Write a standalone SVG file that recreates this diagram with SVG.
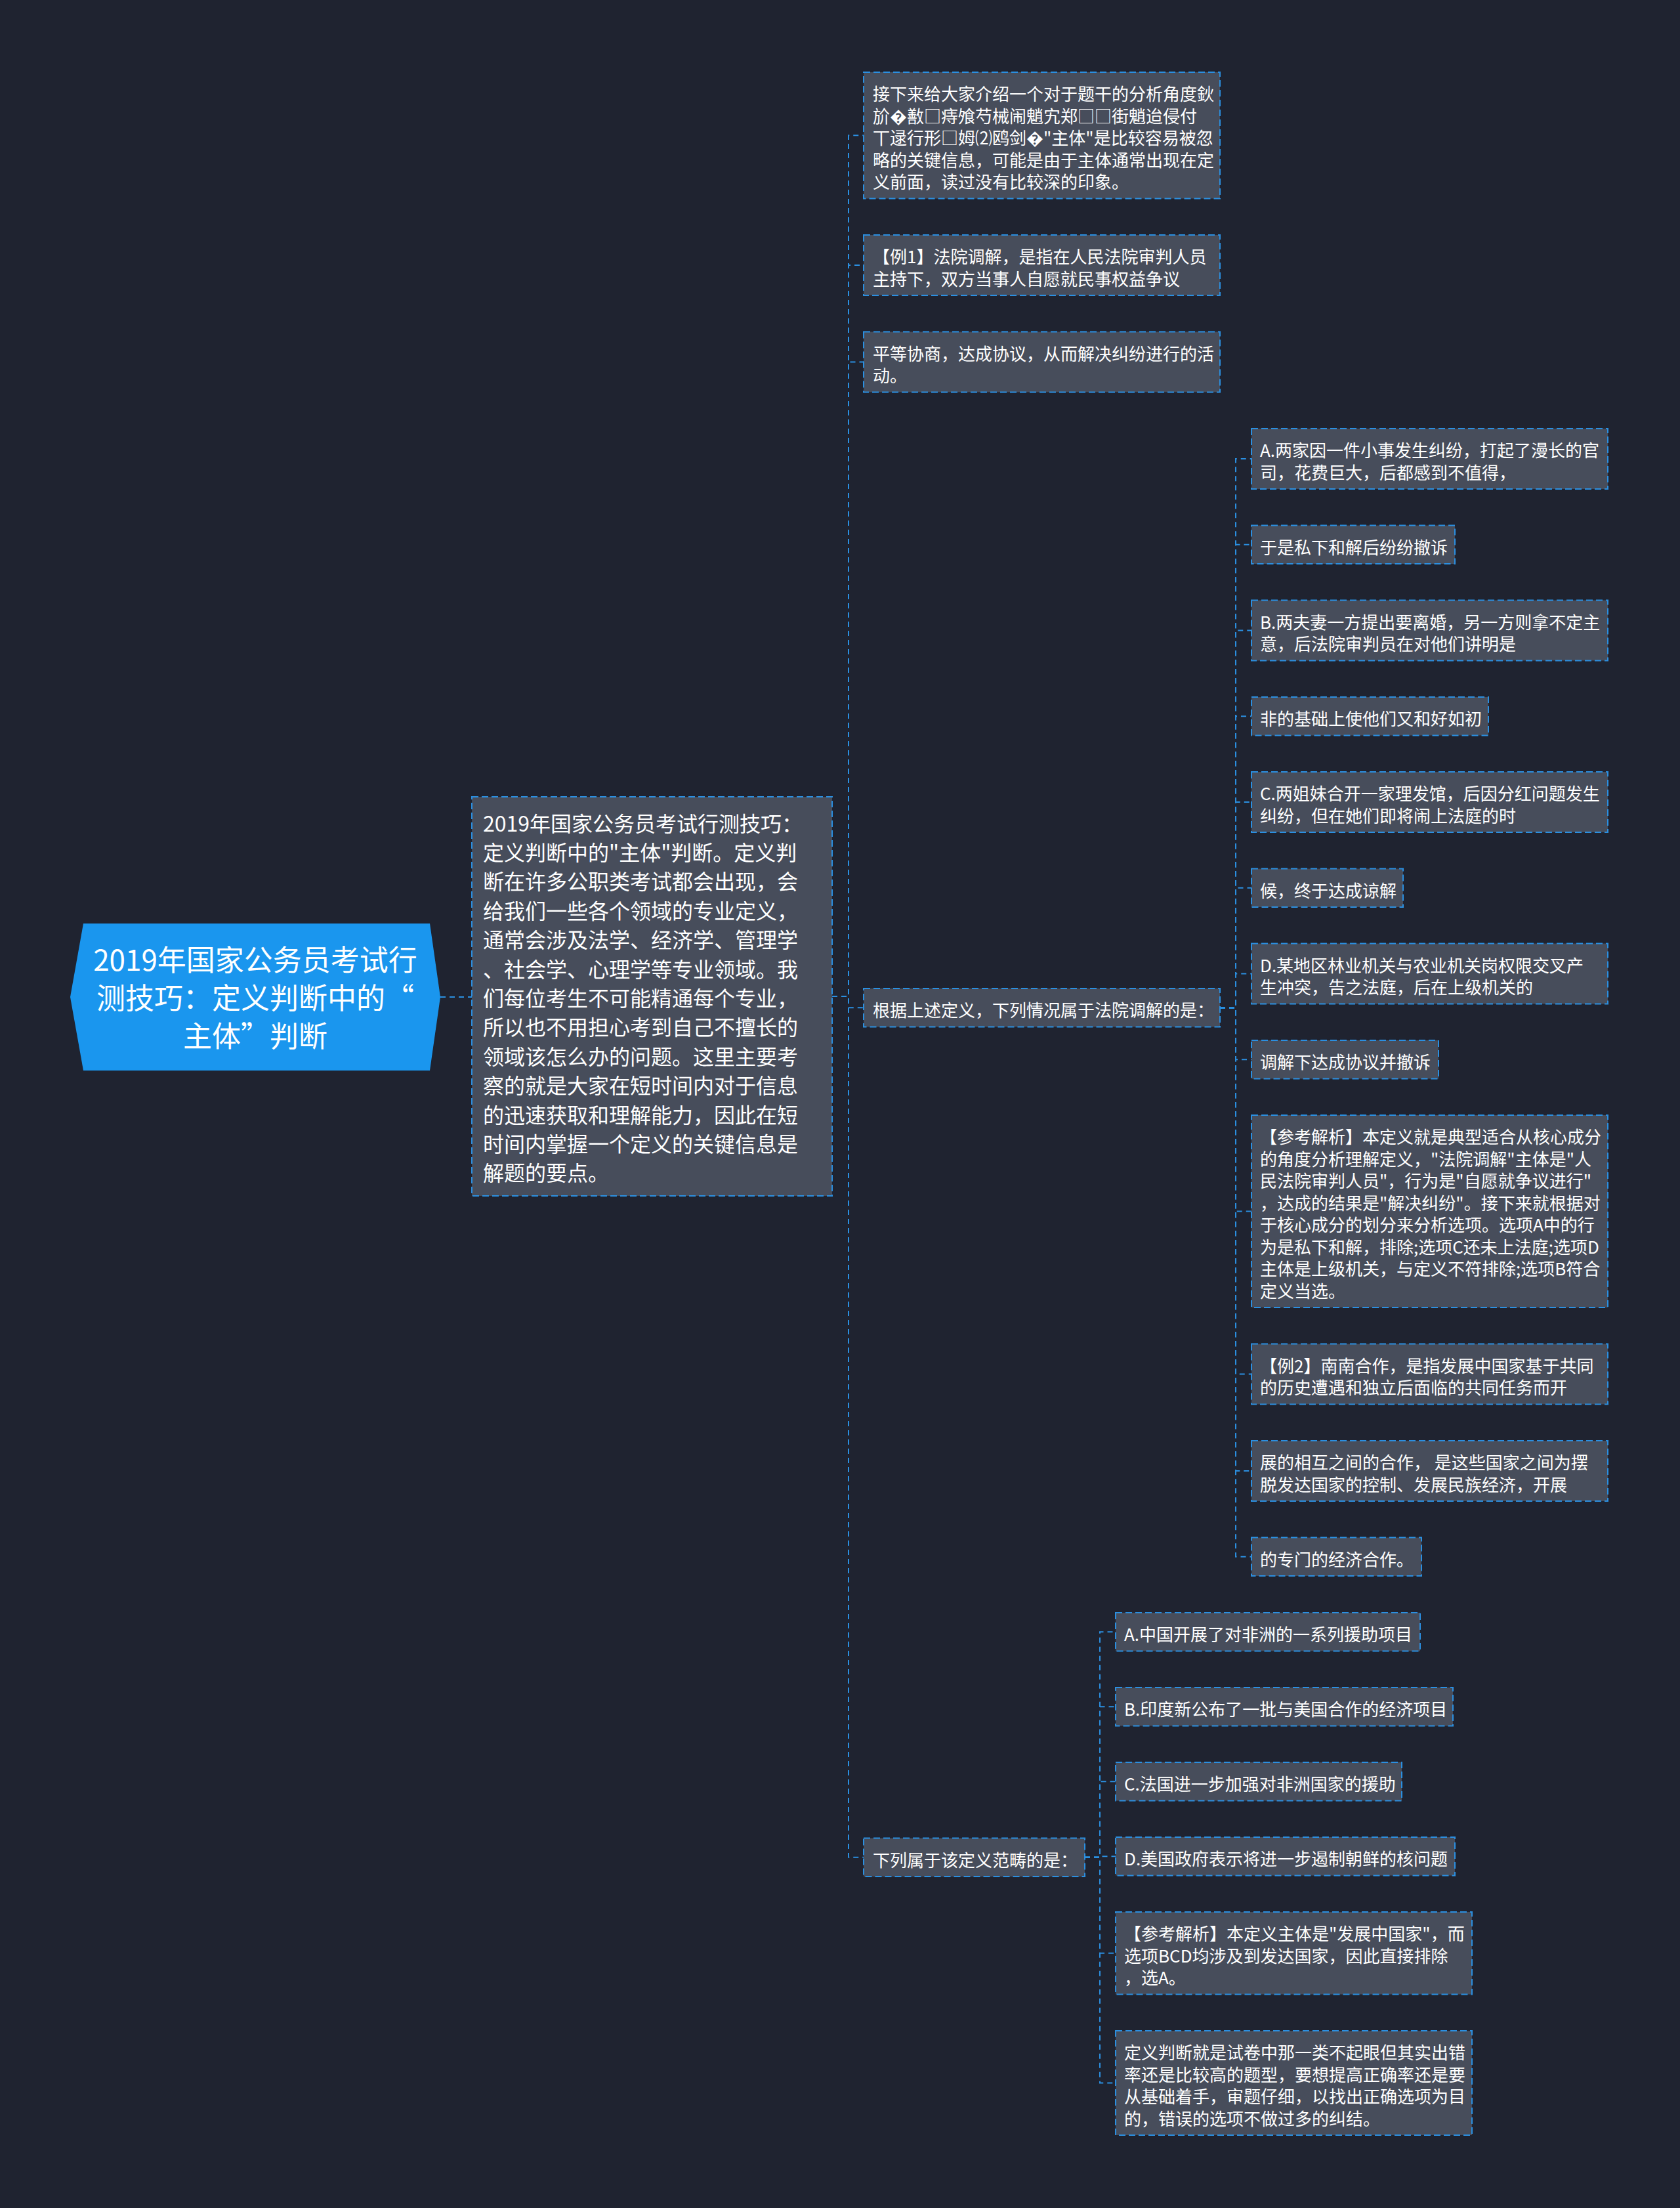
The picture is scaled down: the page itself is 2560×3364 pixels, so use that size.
<svg xmlns="http://www.w3.org/2000/svg" width="2560" height="3364" viewBox="0 0 2560 3364">
<style>
.bg{fill:#1f2330}
.nd{fill:#474d5b;stroke:#2b8fe0;stroke-width:2;stroke-dasharray:10 5}
.t{font-family:"Noto Sans CJK SC","Noto Sans",sans-serif;font-size:26px;fill:#ffffff;dominant-baseline:central}
.t1{font-family:"Noto Sans CJK SC","Noto Sans",sans-serif;font-size:32px;fill:#ffffff;dominant-baseline:central}
.t0{font-family:"Noto Sans CJK SC","Noto Sans",sans-serif;font-size:44px;fill:#ffffff;dominant-baseline:central;text-anchor:middle}
.c path{fill:none;stroke:#2b8fe0;stroke-width:2;stroke-dasharray:8 6}
</style>
<rect class="bg" x="0" y="0" width="2560" height="3364"/>
<g class="c" id="connectors">
<path d="M671,1519 H719"/>
<path d="M1268,1518 H1293 V206.25 H1316"/>
<path d="M1268,1518 H1293 V404 H1316"/>
<path d="M1268,1518 H1293 V551.5 H1316"/>
<path d="M1268,1518 H1293 V1535.25 H1316"/>
<path d="M1268,1518 H1293 V2829.75 H1316"/>
<path d="M1859,1535.25 H1883 V699 H1907"/>
<path d="M1859,1535.25 H1883 V829.75 H1907"/>
<path d="M1859,1535.25 H1883 V960.5 H1907"/>
<path d="M1859,1535.25 H1883 V1091.25 H1907"/>
<path d="M1859,1535.25 H1883 V1222 H1907"/>
<path d="M1859,1535.25 H1883 V1352.75 H1907"/>
<path d="M1859,1535.25 H1883 V1483.5 H1907"/>
<path d="M1859,1535.25 H1883 V1614.25 H1907"/>
<path d="M1859,1535.25 H1883 V1845.5 H1907"/>
<path d="M1859,1535.25 H1883 V2093.5 H1907"/>
<path d="M1859,1535.25 H1883 V2241 H1907"/>
<path d="M1859,1535.25 H1883 V2371.75 H1907"/>
<path d="M1653,2829.75 H1676 V2486.25 H1700"/>
<path d="M1653,2829.75 H1676 V2600.25 H1700"/>
<path d="M1653,2829.75 H1676 V2714.25 H1700"/>
<path d="M1653,2829.75 H1676 V2828.25 H1700"/>
<path d="M1653,2829.75 H1676 V2975.75 H1700"/>
<path d="M1653,2829.75 H1676 V3173.5 H1700"/>
</g>
<g id="root">
<polygon points="127,1407 655,1407 671,1519 655,1631 127,1631 107,1519" fill="#1a96ee"/>
<text class="t0"><tspan x="389" y="1460">2019年国家公务员考试行</tspan><tspan x="389" y="1518">测技巧：定义判断中的“</tspan><tspan x="389" y="1576">主体”判断</tspan></text>
</g>
<g id="summary">
<rect class="nd" x="719" y="1214" width="549" height="608"/>
<text class="t1"><tspan x="736" y="1252.6">2019年国家公务员考试行测技巧：</tspan><tspan x="736" y="1297">定义判断中的"主体"判断。定义判</tspan><tspan x="736" y="1341.4">断在许多公职类考试都会出现，会</tspan><tspan x="736" y="1385.8">给我们一些各个领域的专业定义，</tspan><tspan x="736" y="1430.2">通常会涉及法学、经济学、管理学</tspan><tspan x="736" y="1474.6">、社会学、心理学等专业领域。我</tspan><tspan x="736" y="1519">们每位考生不可能精通每个专业，</tspan><tspan x="736" y="1563.4">所以也不用担心考到自己不擅长的</tspan><tspan x="736" y="1607.8">领域该怎么办的问题。这里主要考</tspan><tspan x="736" y="1652.2">察的就是大家在短时间内对于信息</tspan><tspan x="736" y="1696.6">的迅速获取和理解能力，因此在短</tspan><tspan x="736" y="1741">时间内掌握一个定义的关键信息是</tspan><tspan x="736" y="1785.4">解题的要点。</tspan></text>
</g>
<g id="n-intro">
<rect class="nd" x="1316" y="110" width="543" height="192.5"/>
<text class="t"><tspan x="1330" y="141.25">接下来给大家介绍一个对于题干的分析角度鈥</tspan><tspan x="1330" y="174.75">斺�敾□痔飧芍械闹魈宄郑□□街魈迨侵付</tspan><tspan x="1330" y="208.25">丅逯行形□姆⑵鸥剑�"主体"是比较容易被忽</tspan><tspan x="1330" y="241.75">略的关键信息，可能是由于主体通常出现在定</tspan><tspan x="1330" y="275.25">义前面，读过没有比较深的印象。</tspan></text>
</g>
<g id="n-ex1">
<rect class="nd" x="1316" y="358" width="543" height="92"/>
<text class="t"><tspan x="1330" y="389.25">【例1】法院调解，是指在人民法院审判人员</tspan><tspan x="1330" y="422.75">主持下，双方当事人自愿就民事权益争议</tspan></text>
</g>
<g id="n-ex1b">
<rect class="nd" x="1316" y="505.5" width="543" height="92"/>
<text class="t"><tspan x="1330" y="536.75">平等协商，达成协议，从而解决纠纷进行的活</tspan><tspan x="1330" y="570.25">动。</tspan></text>
</g>
<g id="n-q1">
<rect class="nd" x="1316" y="1506" width="543" height="58.5"/>
<text class="t"><tspan x="1330" y="1537.25">根据上述定义，下列情况属于法院调解的是：</tspan></text>
</g>
<g id="n-q2">
<rect class="nd" x="1316" y="2800.5" width="337" height="58.5"/>
<text class="t"><tspan x="1330" y="2831.75">下列属于该定义范畴的是：</tspan></text>
</g>
<g id="q1-a">
<rect class="nd" x="1907" y="653" width="543" height="92"/>
<text class="t"><tspan x="1920" y="684.25">A.两家因一件小事发生纠纷，打起了漫长的官</tspan><tspan x="1920" y="717.75">司，花费巨大，后都感到不值得，</tspan></text>
</g>
<g id="q1-a2">
<rect class="nd" x="1907" y="800.5" width="310" height="58.5"/>
<text class="t"><tspan x="1920" y="831.75">于是私下和解后纷纷撤诉</tspan></text>
</g>
<g id="q1-b">
<rect class="nd" x="1907" y="914.5" width="543" height="92"/>
<text class="t"><tspan x="1920" y="945.75">B.两夫妻一方提出要离婚，另一方则拿不定主</tspan><tspan x="1920" y="979.25">意，后法院审判员在对他们讲明是</tspan></text>
</g>
<g id="q1-b2">
<rect class="nd" x="1907" y="1062" width="361" height="58.5"/>
<text class="t"><tspan x="1920" y="1093.25">非的基础上使他们又和好如初</tspan></text>
</g>
<g id="q1-c">
<rect class="nd" x="1907" y="1176" width="543" height="92"/>
<text class="t"><tspan x="1920" y="1207.25">C.两姐妹合开一家理发馆，后因分红问题发生</tspan><tspan x="1920" y="1240.75">纠纷，但在她们即将闹上法庭的时</tspan></text>
</g>
<g id="q1-c2">
<rect class="nd" x="1907" y="1323.5" width="231" height="58.5"/>
<text class="t"><tspan x="1920" y="1354.75">候，终于达成谅解</tspan></text>
</g>
<g id="q1-d">
<rect class="nd" x="1907" y="1437.5" width="543" height="92"/>
<text class="t"><tspan x="1920" y="1468.75">D.某地区林业机关与农业机关岗权限交叉产</tspan><tspan x="1920" y="1502.25">生冲突，告之法庭，后在上级机关的</tspan></text>
</g>
<g id="q1-d2">
<rect class="nd" x="1907" y="1585" width="285" height="58.5"/>
<text class="t"><tspan x="1920" y="1616.25">调解下达成协议并撤诉</tspan></text>
</g>
<g id="q1-ans">
<rect class="nd" x="1907" y="1699" width="543" height="293"/>
<text class="t"><tspan x="1920" y="1730.25">【参考解析】本定义就是典型适合从核心成分</tspan><tspan x="1920" y="1763.75">的角度分析理解定义，"法院调解"主体是"人</tspan><tspan x="1920" y="1797.25">民法院审判人员"，行为是"自愿就争议进行"</tspan><tspan x="1920" y="1830.75">，达成的结果是"解决纠纷"。接下来就根据对</tspan><tspan x="1920" y="1864.25">于核心成分的划分来分析选项。选项A中的行</tspan><tspan x="1920" y="1897.75">为是私下和解，排除;选项C还未上法庭;选项D</tspan><tspan x="1920" y="1931.25">主体是上级机关，与定义不符排除;选项B符合</tspan><tspan x="1920" y="1964.75">定义当选。</tspan></text>
</g>
<g id="q1-ex2">
<rect class="nd" x="1907" y="2047.5" width="543" height="92"/>
<text class="t"><tspan x="1920" y="2078.75">【例2】南南合作，是指发展中国家基于共同</tspan><tspan x="1920" y="2112.25">的历史遭遇和独立后面临的共同任务而开</tspan></text>
</g>
<g id="q1-ex2b">
<rect class="nd" x="1907" y="2195" width="543" height="92"/>
<text class="t"><tspan x="1920" y="2226.25">展的相互之间的合作， 是这些国家之间为摆</tspan><tspan x="1920" y="2259.75">脱发达国家的控制、发展民族经济，开展</tspan></text>
</g>
<g id="q1-ex2c">
<rect class="nd" x="1907" y="2342.5" width="259" height="58.5"/>
<text class="t"><tspan x="1920" y="2373.75">的专门的经济合作。</tspan></text>
</g>
<g id="q2-a">
<rect class="nd" x="1700" y="2457" width="464" height="58.5"/>
<text class="t"><tspan x="1713" y="2488.25">A.中国开展了对非洲的一系列援助项目</tspan></text>
</g>
<g id="q2-b">
<rect class="nd" x="1700" y="2571" width="514" height="58.5"/>
<text class="t"><tspan x="1713" y="2602.25">B.印度新公布了一批与美国合作的经济项目</tspan></text>
</g>
<g id="q2-c">
<rect class="nd" x="1700" y="2685" width="436" height="58.5"/>
<text class="t"><tspan x="1713" y="2716.25">C.法国进一步加强对非洲国家的援助</tspan></text>
</g>
<g id="q2-d">
<rect class="nd" x="1700" y="2799" width="517" height="58.5"/>
<text class="t"><tspan x="1713" y="2830.25">D.美国政府表示将进一步遏制朝鲜的核问题</tspan></text>
</g>
<g id="q2-ans">
<rect class="nd" x="1700" y="2913" width="543" height="125.5"/>
<text class="t"><tspan x="1713" y="2944.25">【参考解析】本定义主体是"发展中国家"，而</tspan><tspan x="1713" y="2977.75">选项BCD均涉及到发达国家，因此直接排除</tspan><tspan x="1713" y="3011.25">，选A。</tspan></text>
</g>
<g id="q2-note">
<rect class="nd" x="1700" y="3094" width="543" height="159"/>
<text class="t"><tspan x="1713" y="3125.25">定义判断就是试卷中那一类不起眼但其实出错</tspan><tspan x="1713" y="3158.75">率还是比较高的题型，要想提高正确率还是要</tspan><tspan x="1713" y="3192.25">从基础着手，审题仔细，以找出正确选项为目</tspan><tspan x="1713" y="3225.75">的，错误的选项不做过多的纠结。</tspan></text>
</g>
</svg>
